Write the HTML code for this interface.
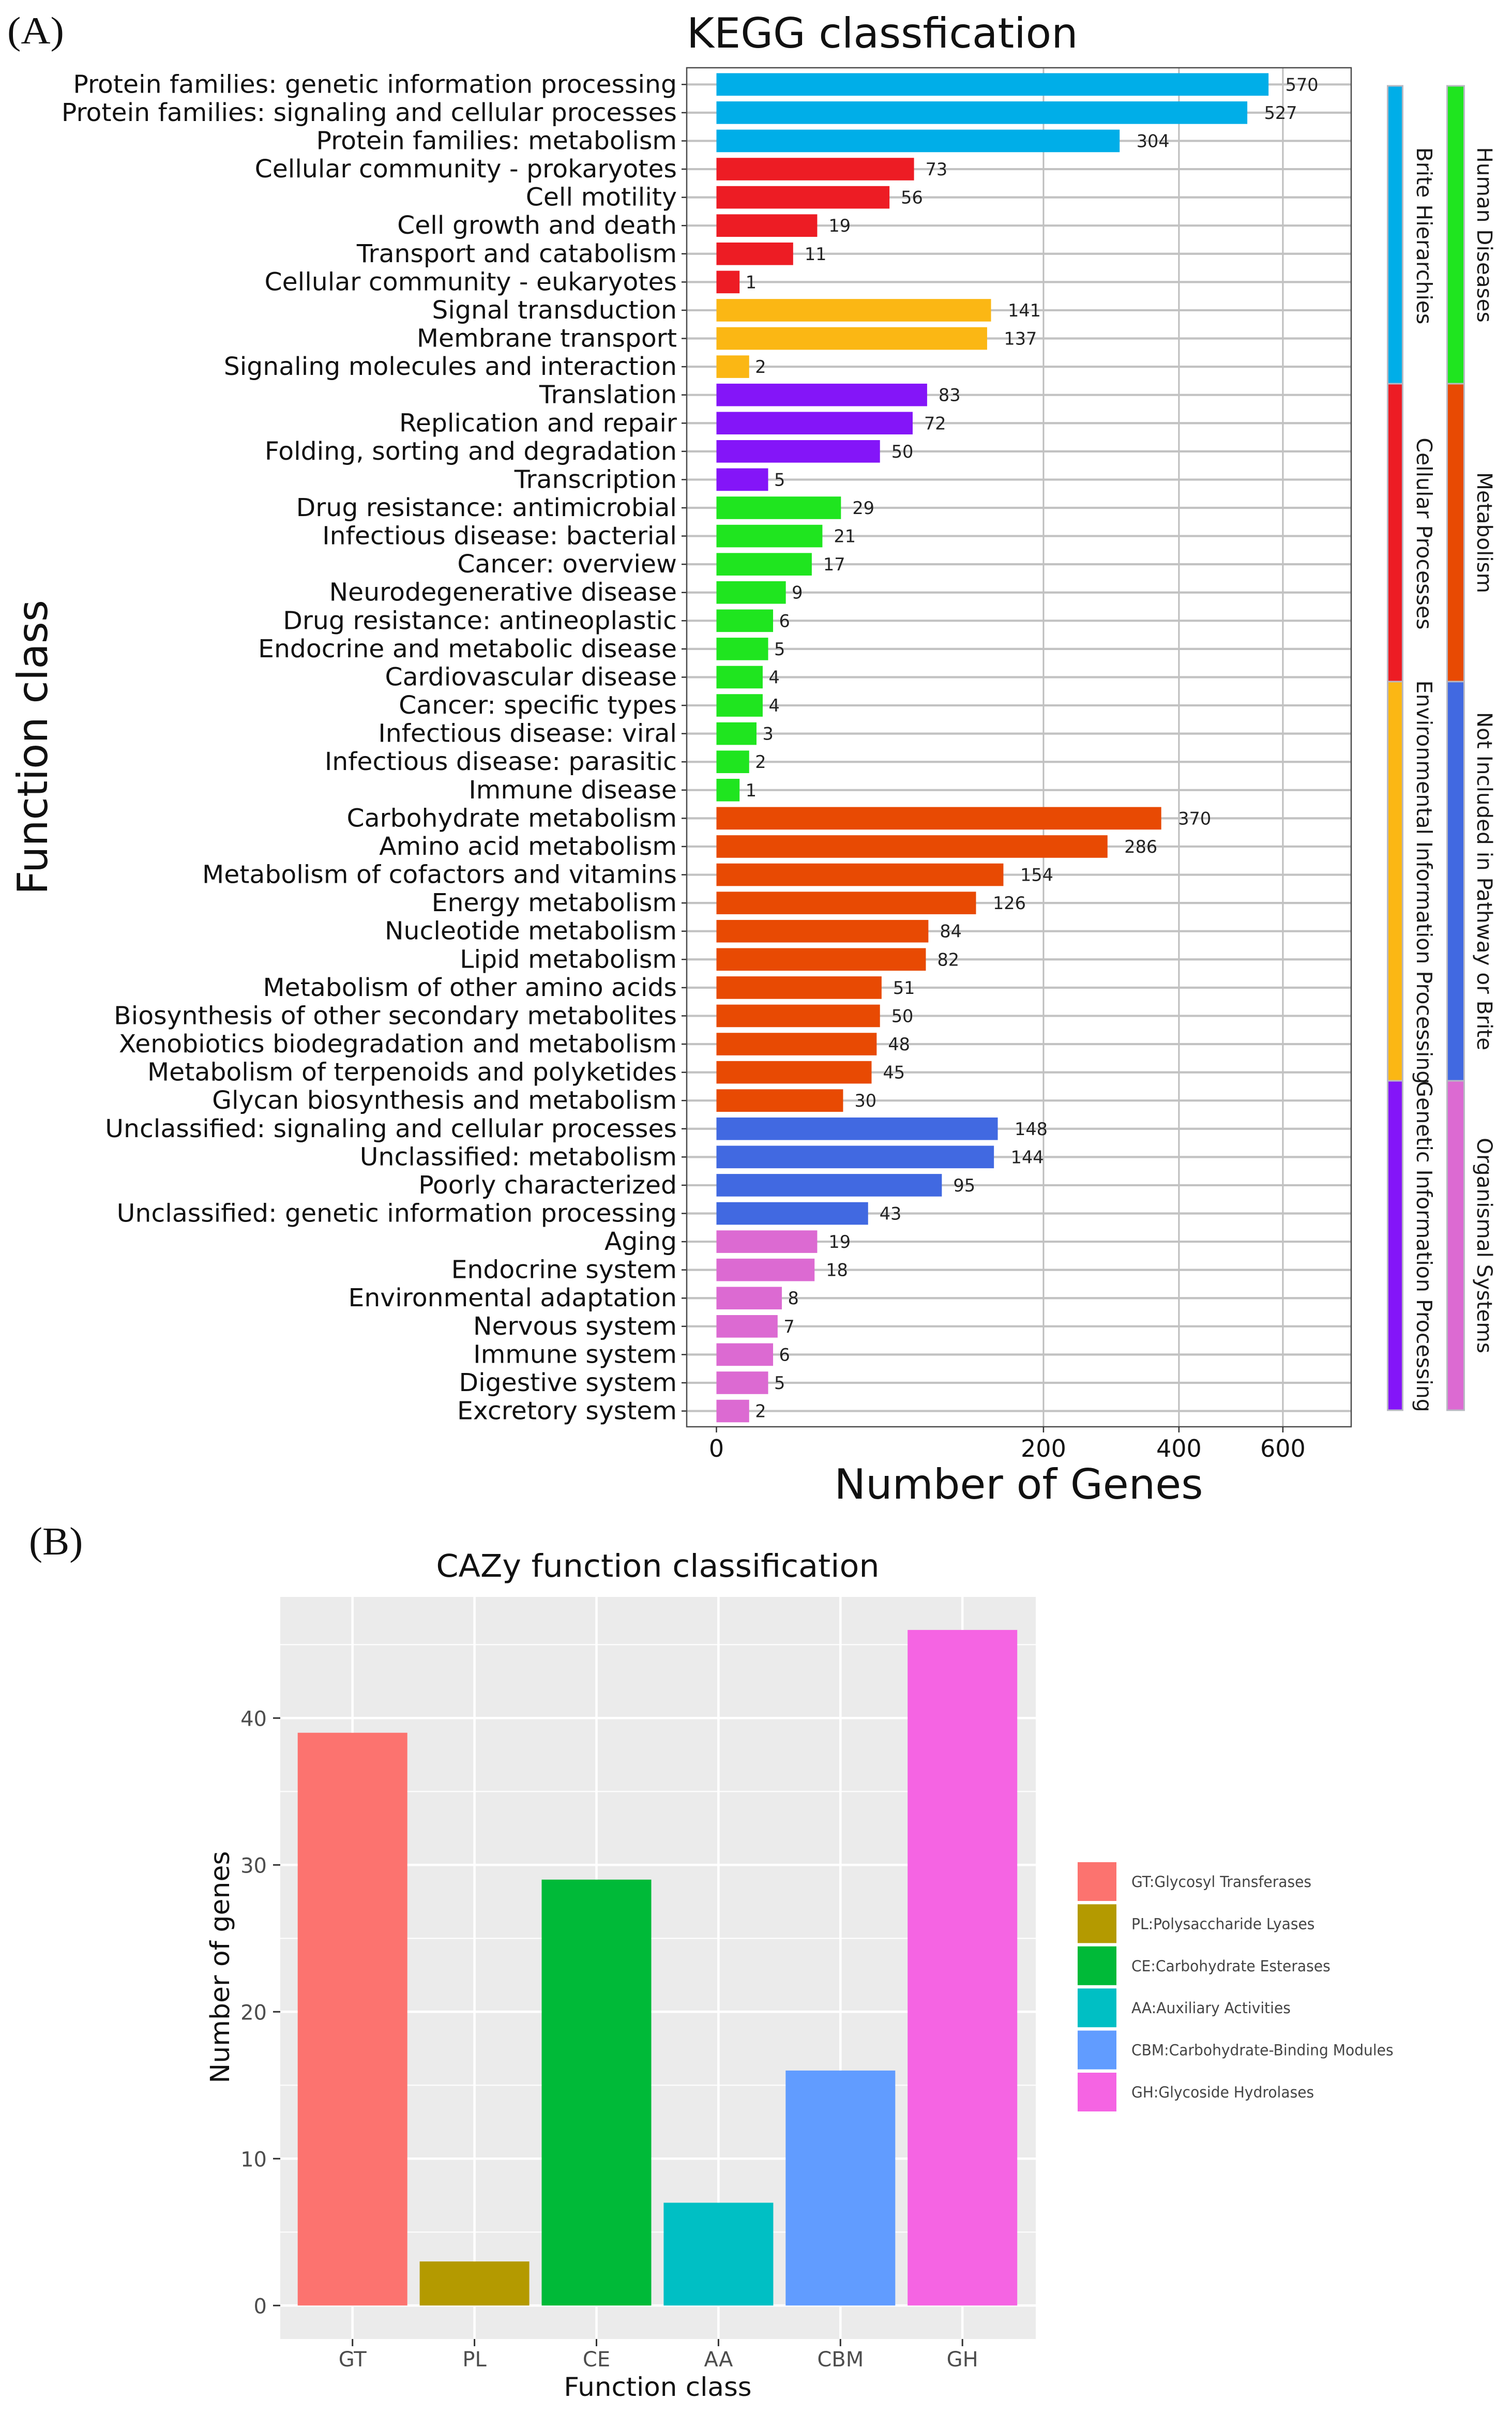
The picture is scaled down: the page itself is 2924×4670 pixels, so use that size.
<!DOCTYPE html>
<html lang="en">
<head>
<meta charset="utf-8">
<title>KEGG and CAZy classification</title>
<style>
html,body{margin:0;padding:0;background:#fff}
svg{display:block}
text{font-family:"DejaVu Sans","Liberation Sans",sans-serif}
.serif{font-family:"Liberation Serif",serif}
</style>
</head>
<body>
<svg id="figure" xmlns="http://www.w3.org/2000/svg" width="2924" height="4670" viewBox="0 0 2924 4670"></svg>
<script>
const keggCategories = ["Protein families: genetic information processing","Protein families: signaling and cellular processes","Protein families: metabolism","Cellular community - prokaryotes","Cell motility","Cell growth and death","Transport and catabolism","Cellular community - eukaryotes","Signal transduction","Membrane transport","Signaling molecules and interaction","Translation","Replication and repair","Folding, sorting and degradation","Transcription","Drug resistance: antimicrobial","Infectious disease: bacterial","Cancer: overview","Neurodegenerative disease","Drug resistance: antineoplastic","Endocrine and metabolic disease","Cardiovascular disease","Cancer: specific types","Infectious disease: viral","Infectious disease: parasitic","Immune disease","Carbohydrate metabolism","Amino acid metabolism","Metabolism of cofactors and vitamins","Energy metabolism","Nucleotide metabolism","Lipid metabolism","Metabolism of other amino acids","Biosynthesis of other secondary metabolites","Xenobiotics biodegradation and metabolism","Metabolism of terpenoids and polyketides","Glycan biosynthesis and metabolism","Unclassified: signaling and cellular processes","Unclassified: metabolism","Poorly characterized","Unclassified: genetic information processing","Aging","Endocrine system","Environmental adaptation","Nervous system","Immune system","Digestive system","Excretory system"];
const keggValues = [570,527,304,73,56,19,11,1,141,137,2,83,72,50,5,29,21,17,9,6,5,4,4,3,2,1,370,286,154,126,84,82,51,50,48,45,30,148,144,95,43,19,18,8,7,6,5,2];
const keggGroupSizes = [3,5,3,4,11,11,4,7];
const keggGroupColors = ["#00aee8","#ed1c24","#fbb714","#8415f8","#1fe51f","#e84a03","#4169e1","#dc6ad2"];
const keggTicks = [0,200,400,600];
const stripLeftLabels = ["Brite Hierarchies","Cellular Processes","Environmental Information Processing","Genetic Information Processing"];
const stripLeftColors = ["#00aee8","#ed1c24","#fbb714","#8415f8"];
const stripRightLabels = ["Human Diseases","Metabolism","Not Included in Pathway or Brite","Organismal Systems"];
const stripRightColors = ["#1fe51f","#e84a03","#4169e1","#dc6ad2"];
const cazyCategories = ["GT","PL","CE","AA","CBM","GH"];
const cazyValues = [39,3,29,7,16,46];
const cazyColors = ["#fc736f","#b49a00","#00ba38","#00bfc4","#619cff","#f564e3"];
const cazyLegend = ["GT:Glycosyl Transferases","PL:Polysaccharide Lyases","CE:Carbohydrate Esterases","AA:Auxiliary Activities","CBM:Carbohydrate-Binding Modules","GH:Glycoside Hydrolases"];
const cazyTicks = [0,10,20,30,40];

const svg = document.getElementById('figure');
const NS = 'http://www.w3.org/2000/svg';
function mk(tag, attrs){
  const e = document.createElementNS(NS, tag);
  for (const k in attrs) e.setAttribute(k, attrs[k]);
  svg.appendChild(e);
  return e;
}
function rect(x, y, w, h, fill){
  return mk('rect', {x: x, y: y, width: w, height: h, fill: fill});
}
function line(x1, y1, x2, y2, stroke, sw){
  return mk('line', {x1: x1, y1: y1, x2: x2, y2: y2, stroke: stroke, 'stroke-width': sw});
}
function label(str, x, y, size, fill, anchor, rot, sx){
  const t = mk('text', {'font-size': size, fill: fill, 'text-anchor': anchor || 'start',
    transform: 'translate(' + x + ' ' + y + ') rotate(' + (rot || 0) + ') scale(' + (sx || 1) + ' 1)'});
  t.textContent = str;
  return t;
}

/* ---------- Panel A: KEGG ---------- */
const panelA = {left: 1328, right: 2613, top: 131, bottom: 2759};
const xA = v => 1385.5 + 44.72 * Math.sqrt(v);
const yA = i => 163.3 + 54.58 * i;
const barHA = 43.6;

const tagA = label('(A)', 14, 84, 74, '#111', 'start', 0, 1.07);
tagA.setAttribute('class', 'serif');



const titleA = label('KEGG classfication', 1328, 92, 80, '#111', 'start', 0, 1.012);



const bgA = rect(panelA.left, panelA.top, panelA.right - panelA.left, panelA.bottom - panelA.top, '#fff');



keggTicks.forEach(function(t){
  if (t === 0) return;
  const g = line(xA(t), panelA.top, xA(t), panelA.bottom, '#bdbdbd', 3);
  
  
});

let groupOfRow = [];
keggGroupSizes.forEach(function(n, g){ for (let k = 0; k < n; k++) groupOfRow.push(g); });

keggCategories.forEach(function(c, i){
  const y = yA(i);
  const g = line(panelA.left, y, panelA.right, y, '#c2c2c2', 4.2);
  
  
});

keggCategories.forEach(function(c, i){
  const y = yA(i), v = keggValues[i];
  const bar = rect(xA(0), y - barHA / 2, xA(v) - xA(0), barHA, keggGroupColors[groupOfRow[i]]);
  
  

  const digits = String(v).length;
  const val = label(String(v), xA(v) + 1 + digits * 10.5, y + 12, 33.5, '#222', 'start');
  
  

  const tick = line(panelA.left - 10, y, panelA.left, y, '#333', 2.5);
  
  

  const cat = label(c, 1309, y + 16, 48, '#111', 'end', 0, 1.018);
  
  
});

const frameA = mk('rect', {x: panelA.left, y: panelA.top, width: panelA.right - panelA.left, height: panelA.bottom - panelA.top, fill: 'none', stroke: '#4a4a4a', 'stroke-width': 2.5});



keggTicks.forEach(function(t){
  const tk = line(xA(t), panelA.bottom, xA(t), panelA.bottom + 11, '#333', 2.5);
  
  
  const lb = label(String(t), xA(t), 2817, 46, '#111', 'middle');
  
  
});

const xTitleA = label('Number of Genes', 1970, 2898, 80, '#111', 'middle', 0, 1.016);



const yTitleA = label('Function class', 91, 1445, 80, '#111', 'middle', -90, 1.01);



/* strips */
const stripEdges = [166, 742, 1318, 2090, 2727];
stripLeftLabels.forEach(function(name, i){
  const s = mk('rect', {x: 2683.5, y: stripEdges[i], width: 29, height: stripEdges[i + 1] - stripEdges[i], fill: stripLeftColors[i], stroke: '#b8b8c2', 'stroke-width': 3});
  
  
});
stripRightLabels.forEach(function(name, i){
  const s = mk('rect', {x: 2798.5, y: stripEdges[i], width: 33, height: stripEdges[i + 1] - stripEdges[i], fill: stripRightColors[i], stroke: '#b8b8c2', 'stroke-width': 3});
  
  
});
stripLeftLabels.forEach(function(name, i){
  const t = label(name, 2740, (stripEdges[i] + stripEdges[i + 1]) / 2 + 2, 41, '#1a1a1a', 'middle', 90);
  
  
});
stripRightLabels.forEach(function(name, i){
  const t = label(name, 2857, (stripEdges[i] + stripEdges[i + 1]) / 2, 40.5, '#1a1a1a', 'middle', 90);
  
  
});

/* ---------- Panel B: CAZy ---------- */
const panelB = {left: 542, right: 2003, top: 3088, bottom: 4523};
const xB = i => 681.7 + 235.9 * i;
const yB = v => 4458.3 - 28.4 * v;
const barWB = 212;

const tagB = label('(B)', 56, 3006, 76, '#111', 'start', 0, 1.03);
tagB.setAttribute('class', 'serif');



const titleB = label('CAZy function classification', 1272, 3049, 60.7, '#111', 'middle', 0, 1.02);



const bgB = rect(panelB.left, panelB.top, panelB.right - panelB.left, panelB.bottom - panelB.top, '#ebebeb');



cazyTicks.forEach(function(t){
  const minor = line(panelB.left, yB(t + 5), panelB.right, yB(t + 5), '#fff', 2.2);
  
  
  const major = line(panelB.left, yB(t), panelB.right, yB(t), '#fff', 4.5);
  
  
  const tk = line(panelB.left - 14, yB(t), panelB.left, yB(t), '#333', 3);
  
  
  const lb = label(String(t), 516, yB(t) + 15, 40, '#4d4d4d', 'end');
  
  
});

cazyCategories.forEach(function(c, i){
  const g = line(xB(i), panelB.top, xB(i), panelB.bottom, '#fff', 4.5);
  
  
});

cazyCategories.forEach(function(c, i){
  const bar = rect(xB(i) - barWB / 2, yB(cazyValues[i]), barWB, yB(0) - yB(cazyValues[i]), cazyColors[i]);
  
  
  const tk = line(xB(i), panelB.bottom, xB(i), panelB.bottom + 14, '#333', 3);
  
  
  const lb = label(c, xB(i), 4576, 40, '#4d4d4d', 'middle');
  
  
});

const xTitleB = label('Function class', 1272, 4633, 50, '#111', 'middle', 0, 1.03);



const yTitleB = label('Number of genes', 443, 3804, 51, '#111', 'middle', -90, 1.02);



cazyLegend.forEach(function(name, i){
  const top = 3601 + 81.4 * i;
  const sw = rect(2084, top, 75, 75, cazyColors[i]);
  
  
  const lb = label(name, 2188, top + 48, 29, '#444', 'start', 0, 0.97);
  
  
});
</script>
</body>
</html>
